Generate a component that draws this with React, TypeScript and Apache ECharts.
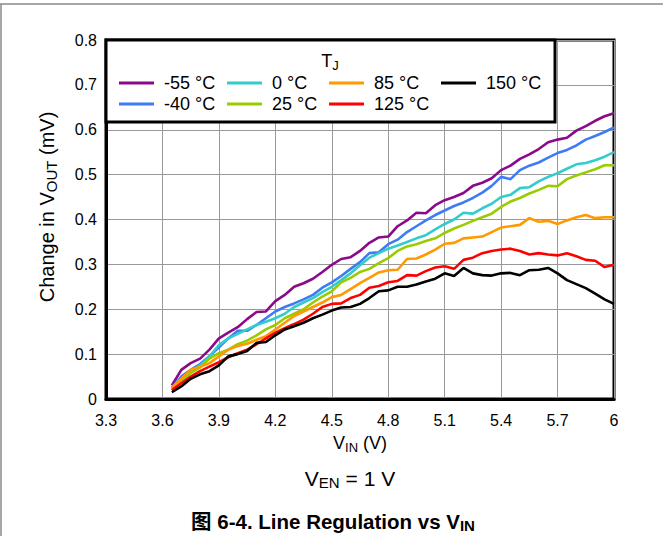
import React, { useEffect, useRef } from "react";
import * as echarts from "echarts";

const xVin = [3.65,3.7,3.75,3.8,3.85,3.9,3.95,4.0,4.05,4.1,4.15,4.2,4.25,4.3,4.35,4.4,4.45,4.5,4.55,4.6,4.65,4.7,4.75,4.8,4.85,4.9,4.95,5.0,5.05,5.1,5.15,5.2,5.25,5.3,5.35,5.4,5.45,5.5,5.55,5.6,5.65,5.7,5.75,5.8,5.85,5.9,5.95,6.0];

const tMinus55 = [0.03,0.065,0.08,0.09,0.11,0.135,0.148,0.16, 0.178,0.194,0.195,0.218,0.232,0.25,0.258,0.268,0.283,0.299, 0.312,0.316,0.33,0.348,0.36,0.362,0.385,0.398,0.415,0.414, 0.432,0.443,0.45,0.459,0.475,0.482,0.492,0.51,0.52,0.535, 0.545,0.557,0.572,0.578,0.582,0.598,0.608,0.62,0.63,0.637];
const tMinus40 = [0.025,0.05,0.065,0.078,0.095,0.115,0.135,0.152, 0.152,0.165,0.18,0.195,0.205,0.213,0.222,0.232,0.248,0.26, 0.274,0.29,0.305,0.325,0.327,0.345,0.355,0.372,0.385,0.398, 0.41,0.42,0.43,0.438,0.448,0.46,0.475,0.495,0.49,0.51, 0.52,0.527,0.538,0.548,0.555,0.565,0.578,0.586,0.595,0.605];
const t0 = [0.025,0.045,0.06,0.075,0.095,0.12,0.135,0.145, 0.155,0.165,0.172,0.18,0.19,0.205,0.215,0.225,0.238,0.25, 0.265,0.28,0.298,0.315,0.325,0.335,0.342,0.35,0.358,0.365, 0.378,0.39,0.4,0.415,0.413,0.425,0.435,0.45,0.455,0.47, 0.472,0.485,0.495,0.503,0.513,0.523,0.526,0.532,0.54,0.55];
const t25 = [0.02,0.04,0.058,0.07,0.09,0.102,0.11,0.122, 0.13,0.142,0.155,0.165,0.18,0.19,0.2,0.215,0.228,0.24, 0.26,0.27,0.283,0.29,0.303,0.314,0.33,0.34,0.345,0.352, 0.358,0.37,0.38,0.388,0.397,0.405,0.413,0.428,0.44,0.448, 0.458,0.466,0.475,0.474,0.49,0.498,0.505,0.512,0.521,0.521];
const t85 = [0.025,0.045,0.065,0.072,0.08,0.095,0.11,0.118, 0.123,0.132,0.14,0.155,0.17,0.185,0.195,0.205,0.215,0.227, 0.232,0.245,0.258,0.27,0.282,0.287,0.288,0.312,0.313,0.322, 0.333,0.346,0.348,0.358,0.36,0.362,0.372,0.382,0.385,0.388, 0.403,0.395,0.397,0.39,0.398,0.405,0.41,0.403,0.405,0.405];
const t125 = [0.02,0.035,0.05,0.062,0.072,0.082,0.093,0.102, 0.11,0.122,0.135,0.148,0.158,0.167,0.177,0.19,0.205,0.212, 0.213,0.225,0.232,0.248,0.252,0.26,0.263,0.276,0.275,0.285, 0.293,0.296,0.29,0.31,0.315,0.325,0.33,0.333,0.335,0.33, 0.322,0.325,0.322,0.32,0.325,0.318,0.31,0.308,0.294,0.299];
const t150 = [0.015,0.028,0.045,0.055,0.062,0.075,0.095,0.1, 0.107,0.125,0.127,0.142,0.155,0.162,0.17,0.18,0.188,0.197, 0.204,0.205,0.212,0.225,0.24,0.242,0.25,0.25,0.255,0.262, 0.268,0.28,0.274,0.292,0.28,0.276,0.275,0.28,0.281,0.276, 0.287,0.288,0.292,0.28,0.265,0.256,0.247,0.235,0.222,0.212];

const seriesNames = ["-55 °C", "-40 °C", "0 °C", "25 °C", "85 °C", "125 °C", "150 °C"];
const seriesData = [tMinus55, tMinus40, t0, t25, t85, t125, t150];
const seriesColors = ["#8a0a8a", "#3d7cf5", "#33cccc", "#99cc00", "#ff9900", "#ff0000", "#000000"];
const legendColumns = [["-55 °C", "-40 °C"], ["0 °C", "25 °C"], ["85 °C", "125 °C"], ["150 °C"]];
const legendLefts = [119, 227, 329, 441];

const FONT = "'Liberation Sans', Arial, 'Noto Sans CJK SC', sans-serif";

export default function App() {
  const ref = useRef<HTMLDivElement>(null);
  useEffect(() => {
    if (!ref.current) return;
    const chart = echarts.init(ref.current, null, { renderer: "svg" });
    const fmt = (v: number) => String(Number(v.toFixed(1)));
    const subRich = (size: number, sub: number, pad: number, bold = false) => ({
      a: { fontSize: size, lineHeight: size + 4, color: "#000", fontFamily: FONT, fontWeight: bold ? "bold" : "normal" },
      s: { fontSize: sub, lineHeight: size + 4, padding: [pad, 0, 0, 0], color: "#000", fontFamily: FONT, fontWeight: bold ? "bold" : "normal" },
    });
    const option: any = {
      animation: false,
      backgroundColor: "#fff",
      grid: { left: 106, right: 49, top: 40, bottom: 137, show: true, borderColor: "#000", borderWidth: 3 },
      xAxis: {
        type: "value", min: 3.3, max: 6, interval: 0.3,
        axisLine: { show: true, lineStyle: { color: "#000", width: 3 } },
        axisTick: { show: false },
        splitLine: { show: true, lineStyle: { color: "#999", width: 1 } },
        axisLabel: { fontSize: 16, color: "#000", margin: 13, fontFamily: FONT, formatter: fmt },
        name: "{a|V}{s|IN}{a| (V)}",
        nameLocation: "middle", nameGap: 30,
        nameTextStyle: { rich: subRich(18, 13, 8) },
      },
      yAxis: {
        type: "value", min: 0, max: 0.8, interval: 0.1,
        axisLine: { show: true, lineStyle: { color: "#000", width: 3 } },
        axisTick: { show: false },
        splitLine: { show: true, lineStyle: { color: "#999", width: 1 } },
        axisLabel: { fontSize: 16, color: "#000", margin: 9, fontFamily: FONT, formatter: fmt },
      },
      legend: legendColumns.map((col, i) => ({
        data: col, orient: "vertical", left: legendLefts[i], top: 74,
        icon: "rect", itemWidth: 35, itemHeight: 3, itemGap: 3,
        selectedMode: false, z: 20, padding: 0,
        textStyle: { fontSize: 18, color: "#000", fontFamily: FONT, padding: [0, 0, 0, 5] },
      })),
      graphic: [
        { type: "line", z: 100, shape: { x1: 0, y1: 4, x2: 663, y2: 4 }, style: { stroke: "#888", lineWidth: 1.5 } },
        { type: "line", z: 100, shape: { x1: 1, y1: 4, x2: 1, y2: 536 }, style: { stroke: "#888", lineWidth: 1.5 } },
        { type: "rect", z: 10, shape: { x: 106, y: 40, width: 449, height: 82 }, style: { fill: "#fff", stroke: "#000", lineWidth: 3 } },
        { type: "text", z: 20, x: 330, y: 61, style: { text: "{a|T}{s|J}", rich: subRich(18, 13, 8), align: "center", verticalAlign: "middle" } },
        { type: "text", z: 20, x: 47, y: 207, rotation: Math.PI / 2, style: { text: "{a|Change in V}{s|OUT}{a| (mV)}", rich: subRich(20, 15, 9), align: "center", verticalAlign: "middle" } },
        { type: "text", z: 20, x: 350, y: 478, style: { text: "{a|V}{s|EN}{a| = 1 V}", rich: subRich(21, 15, 9), align: "center", verticalAlign: "middle" } },
        { type: "text", z: 20, x: 333, y: 521, style: { text: "{a|图 6-4. Line Regulation vs V}{s|IN}", rich: subRich(20.5, 15, 9, true), align: "center", verticalAlign: "middle" } },
      ],
      series: seriesNames.map((name, i) => ({
        name, type: "line", showSymbol: false, color: seriesColors[i],
        lineStyle: { width: 2.6, color: seriesColors[i] },
        data: xVin.map((x, j) => [x, seriesData[i][j]]),
      })),
    };
    chart.setOption(option);
    return () => chart.dispose();
  }, []);
  return <div ref={ref} style={{ position: "fixed", left: 0, top: 0, width: 663, height: 536 }} />;
}
